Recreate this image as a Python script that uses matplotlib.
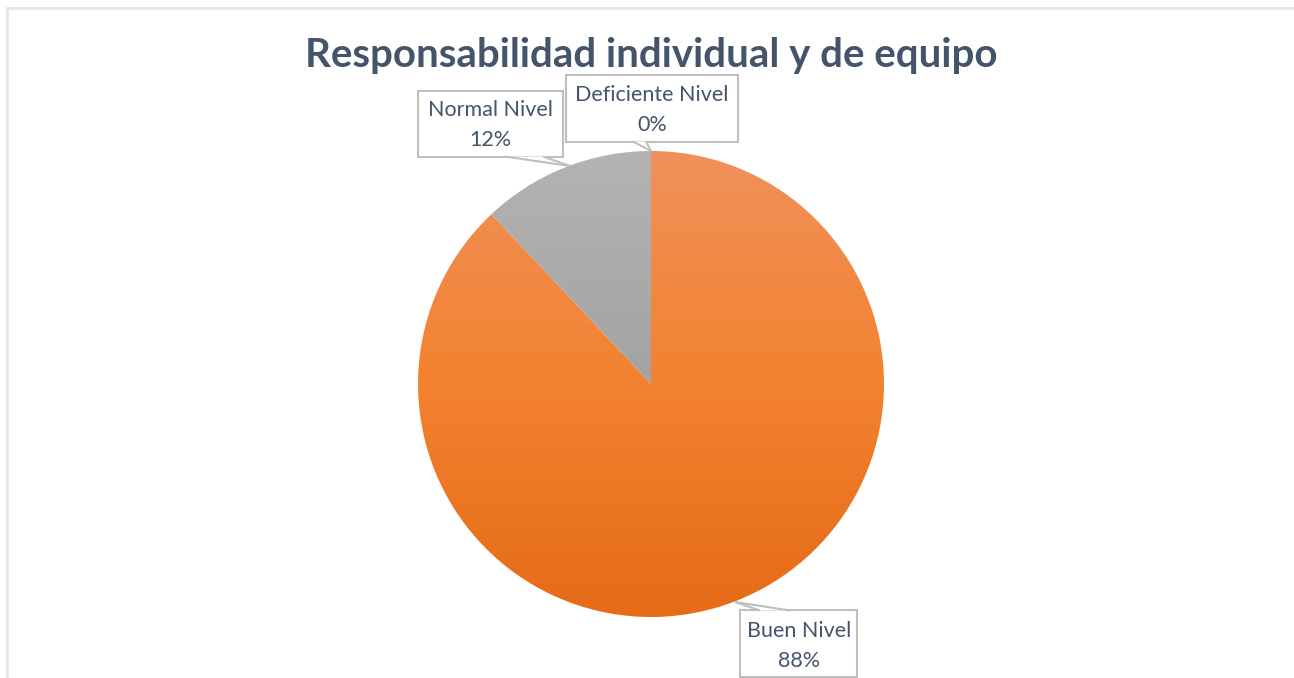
import numpy as np
import matplotlib
matplotlib.use("Agg")
import matplotlib.pyplot as plt
from matplotlib.patches import Rectangle, Polygon
from matplotlib.colors import LinearSegmentedColormap

# ---- data ----
categories = ["Buen Nivel", "Normal Nivel", "Deficiente Nivel"]
values = [88, 12, 0]
pct_labels = ["88%", "12%", "0%"]
title = "Responsabilidad individual y de equipo"

# ---- style ----
grad_colors = [
    ["#F0915A", "#F3822F", "#E56B17"],   # orange
    ["#B3B3B3", "#A3A3A3", "#929292"],   # gray
    ["#5B9BD5", "#5B9BD5", "#5B9BD5"],
]
text_color = "#44546A"
box_edge = "#BFBFBF"
plt.rcParams['font.family'] = ['Lato', 'DejaVu Sans']

W, H = 1294, 678
fig = plt.figure(figsize=(W / 100, H / 100), dpi=100)
ax = fig.add_axes([0, 0, 1, 1])

def Y(py):
    return H - py

cx, cy, R = 651, 384, 233

wedges, _ = ax.pie(values, center=(cx, Y(cy)), radius=R, startangle=90,
                   counterclock=False, frame=True,
                   wedgeprops=dict(facecolor="none", edgecolor="none", linewidth=0))

grad = np.linspace(0, 1, 256).reshape(-1, 1)
for w, v, cols in zip(wedges, values, grad_colors):
    if v <= 0:
        continue
    cmap = LinearSegmentedColormap.from_list("g", cols)
    im = ax.imshow(grad, cmap=cmap, extent=(cx - R, cx + R, Y(cy + R), Y(cy - R)),
                   origin="upper", aspect="auto", zorder=1, interpolation="bilinear")
    im.set_clip_path(w)

# border of chart area
ax.add_patch(Rectangle((7, Y(H + 10)), W + 20, (H + 10) - 8, fill=False,
                       edgecolor="#E3E7ED", linewidth=2, zorder=0))

ax.text(651, Y(56), title, ha="center", va="center", fontsize=29,
        fontweight="bold", color=text_color, zorder=5)

def callout(box, tip, base, text_xy, lines):
    x0, y0, x1, y1 = box
    ax.add_patch(Rectangle((x0, Y(y1)), x1 - x0, y1 - y0, facecolor="white",
                           edgecolor=box_edge, linewidth=1.5, zorder=3))
    (bx0, by0), (bx1, by1) = base
    tri = [(bx0, Y(by0)), (bx1, Y(by1)), (tip[0], Y(tip[1]))]
    ax.add_patch(Polygon(tri, closed=True, facecolor="white", edgecolor="none", zorder=4))
    ax.plot([bx0, tip[0]], [Y(by0), Y(tip[1])], color=box_edge, lw=1.5, zorder=4,
            solid_capstyle="butt")
    ax.plot([bx1, tip[0]], [Y(by1), Y(tip[1])], color=box_edge, lw=1.5, zorder=4,
            solid_capstyle="butt")
    ax.text(text_xy[0], Y(text_xy[1]), lines, ha="center", va="center",
            fontsize=15.5, color=text_color, linespacing=1.6, zorder=5)

# Buen Nivel
callout((740, 610, 857, 677), (735, 602), ((760, 610.5), (790, 610.5)), (799, 646),
        f"{categories[0]}\n{pct_labels[0]}")
# Normal Nivel
callout((418, 91, 563, 157), (570, 166), ((505, 156.5), (543, 156.5)), (490, 125),
        f"{categories[1]}\n{pct_labels[1]}")
# Deficiente Nivel
callout((566, 75, 738, 142), (651, 151), ((633, 141.5), (646, 141.5)), (652, 110),
        f"{categories[2]}\n{pct_labels[2]}")

ax.set_xlim(0, W)
ax.set_ylim(0, H)
ax.set_aspect("auto")
ax.set_axis_off()
fig.savefig("out.png", dpi=100, facecolor="white")
